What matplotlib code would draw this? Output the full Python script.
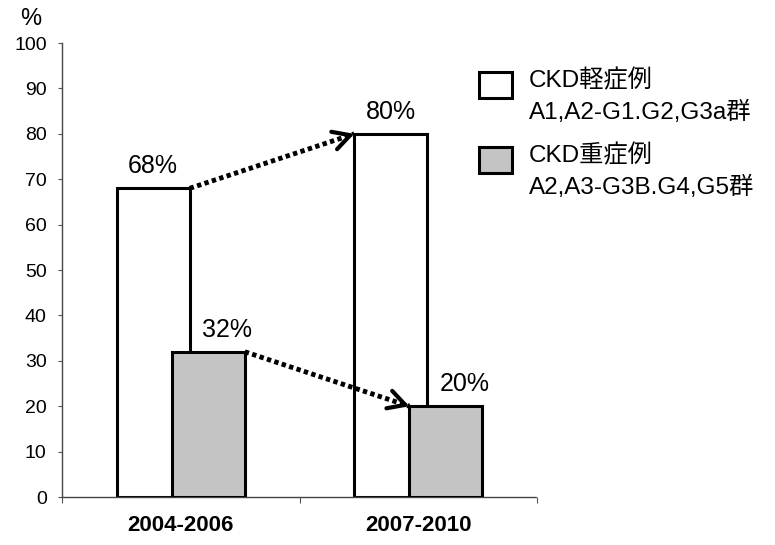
import matplotlib.pyplot as plt
import matplotlib.patches as mpatches
import numpy as np
from matplotlib import font_manager

plt.rcParams["font.family"] = ["Liberation Sans", "Noto Sans CJK JP", "DejaVu Sans"]

periods = ["2004-2006", "2007-2010"]
mild = [68, 80]
severe = [32, 20]
mild_label = "CKD軽症例\nA1,A2-G1.G2,G3a群"
severe_label = "CKD重症例\nA2,A3-G3B.G4,G5群"

names = {f.name for f in font_manager.fontManager.ttflist}
narrow = "Liberation Sans Narrow" if "Liberation Sans Narrow" in names else "Liberation Sans"

fig = plt.figure(figsize=(7.75, 5.45), dpi=100)
ax = fig.add_axes([0.080, 0.088, 0.613, 0.833])

x = np.arange(len(periods))
width = 0.307
off = 0.116
grey = "#c4c4c4"

b1 = ax.bar(x - off, mild, width, color="white", edgecolor="black", linewidth=2.2, zorder=2)
b2 = ax.bar(x + off, severe, width, color=grey, edgecolor="black", linewidth=2.2, zorder=3)

# value labels (severe ones nudged right, clear of the white bar edge)
for bars, vals, dx in ((b1, mild, 0.0), (b2, severe, 0.08)):
    for bar, v in zip(bars, vals):
        ax.text(bar.get_x() + bar.get_width() / 2 + dx, v + 2.2, f"{v}%",
                ha="center", va="bottom", fontsize=18, zorder=5)

# dotted trend lines between periods, with open arrow heads
for bars, vals in ((b1, mild), (b2, severe)):
    x0 = bars[0].get_x() + bars[0].get_width()
    x1 = bars[1].get_x()
    ax.plot([x0, x1], vals, color="black", lw=3.5, linestyle=(0, (0.9, 0.7)),
            solid_capstyle="butt", dash_capstyle="butt", zorder=4)
    t = 0.04
    ax.annotate("", xy=(x1, vals[1]),
                xytext=(x1 - t * (x1 - x0), vals[1] - t * (vals[1] - vals[0])),
                arrowprops=dict(arrowstyle="->,head_length=0.55,head_width=0.3", lw=3,
                                color="black", shrinkA=0, shrinkB=0,
                                mutation_scale=22), zorder=4)

ax.set_xlim(-0.5, 1.5)
ax.set_ylim(0, 100)
ax.set_yticks(np.arange(0, 101, 10))
ax.tick_params(axis="y", labelsize=14, length=3, width=0.8, color="#555555", pad=8)
for t in ax.get_yticklabels():
    t.set_fontfamily(narrow)

ax.set_xticks([-0.5, 0.5, 1.5])
ax.set_xticklabels([])
ax.set_xticks(x, minor=True)
ax.set_xticklabels(periods, minor=True, fontsize=16, fontweight="bold", family=narrow)
ax.tick_params(axis="x", which="major", length=4, width=0.8, color="#555555", direction="out")
ax.tick_params(axis="x", which="minor", length=0, pad=13)

for s in ("top", "right"):
    ax.spines[s].set_visible(False)
for s in ("left", "bottom"):
    ax.spines[s].set_linestyle((0, (1, 1)))
    ax.spines[s].set_color("#444444")
    ax.spines[s].set_linewidth(1.0)

fig.text(0.039, 0.965, "%", fontsize=17, ha="center", va="center")

# legend
for yb, fc, label in ((0.821, "white", mild_label), (0.683, grey, severe_label)):
    fig.patches.append(mpatches.Rectangle((0.618, yb), 0.043, 0.047, transform=fig.transFigure,
                                          facecolor=fc, edgecolor="black", linewidth=2.2))
    fig.text(0.682, yb + 0.053, label, fontsize=17.5, ha="left", va="top",
             linespacing=1.45, family=["Liberation Sans", "Noto Sans CJK JP"])

fig.savefig("out.png", dpi=100, facecolor="white")
